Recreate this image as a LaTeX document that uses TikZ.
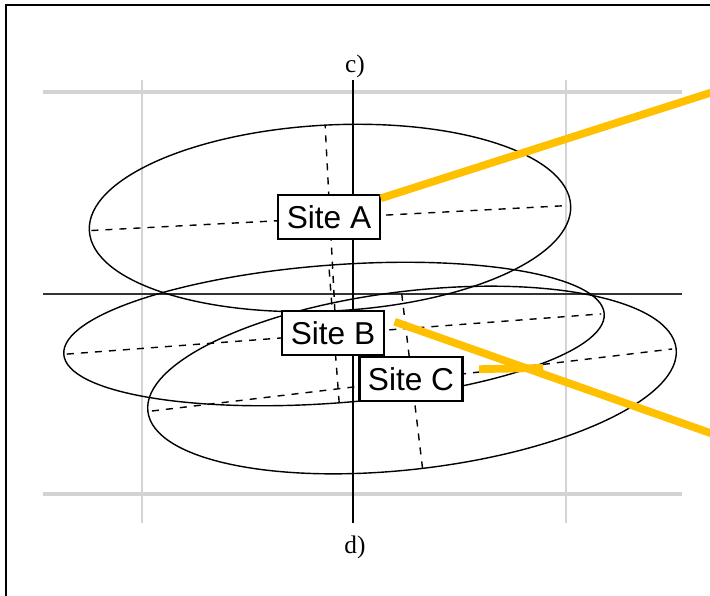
\documentclass[tikz,border=0pt]{standalone}
\usepackage{fontspec}
\setmainfont{Liberation Serif}
\setsansfont{Liberation Sans}
\usetikzlibrary{positioning}

\definecolor{gridgray}{RGB}{211,211,211}
\definecolor{leadgold}{RGB}{255,192,0}

\tikzset{
    orbit/.style={line width=1pt},
    orbitaxis/.style={line width=1pt, dash pattern=on 5pt off 5pt},
    sitebox/.style={draw, line width=1.6pt, fill=white, inner xsep=6pt,
        minimum height=31pt, font=\sffamily\fontsize{22.5}{22.5}\selectfont},
    leader/.style={leadgold, line width=5.5pt},
    caselabel/.style={font=\fontsize{18}{18}\selectfont},
}

\begin{document}
\begin{tikzpicture}[x=0.025cm, y=0.025cm]
    \useasboundingbox (0,0) rectangle (710,-595);
    \clip (0,0) rectangle (710,-595);
    % frame, cut at the right and bottom
    \draw[line width=1.5pt] (720,-5) -- (6,-5) -- (6,-605);

    % grid
    \draw[gridgray, line width=2.2pt] (43,-92) -- (682,-92);
    \draw[gridgray, line width=2.2pt] (43,-494) -- (682,-494);
    \draw[gridgray, line width=1.8pt] (142,-80) -- (142,-523);
    \draw[gridgray, line width=1.8pt] (566,-80) -- (566,-523);
    \draw[black!80, line width=0.9pt] (43,-294) -- (682,-294);

    \node[caselabel] (c) at (355,-66) {c)};
    \node[caselabel] (d) at (355,-547) {d)};
    \draw[line width=2pt] (353,-80) -- (353,-523);

    % ellipse centres
    \coordinate (A) at (330,-218);
    \coordinate (B) at (334,-334);
    \coordinate (C) at (412,-380);

    \begin{scope}[shift={(A)}, rotate=3]
        \draw[orbit] (0,0) ellipse [x radius=241, y radius=93];
        \draw[orbitaxis] (-239,0) -- (239,0);
        \draw[orbitaxis] (0,-93) -- (0,93);
    \end{scope}
    \begin{scope}[shift={(B)}, rotate=4.3]
        \draw[orbit] (0,0) ellipse [x radius=271, y radius=69];
        \draw[orbitaxis] (-268,0) -- (268,0);
        \draw[orbitaxis] (0,-69) -- (0,69);
    \end{scope}
    \begin{scope}[shift={(C)}, rotate=6.8]
        \draw[orbit] (0,0) ellipse [x radius=266, y radius=89];
        \draw[orbitaxis] (-262,0) -- (262,0);
        \draw[orbitaxis] (0,-89) -- (0,89);
    \end{scope}

    \node[sitebox] (siteA) at (329,-217) {Site A};
    \node[sitebox] (siteB) at (333,-333) {Site B};
    \node[sitebox] (siteC) at (411,-379) {Site C};

    \coordinate (endA) at (716,-91);
    \coordinate (endB) at (716,-435);
    \coordinate (endC) at (543,-368);
    \draw[leader] ([yshift=-3pt]siteA.north east) -- (endA);
    \draw[leader] ([xshift=7pt, yshift=8pt]siteB.east) -- (endB);
    \draw[leader] ([xshift=11pt, yshift=7pt]siteC.east) -- (endC);
\end{tikzpicture}
\end{document}
